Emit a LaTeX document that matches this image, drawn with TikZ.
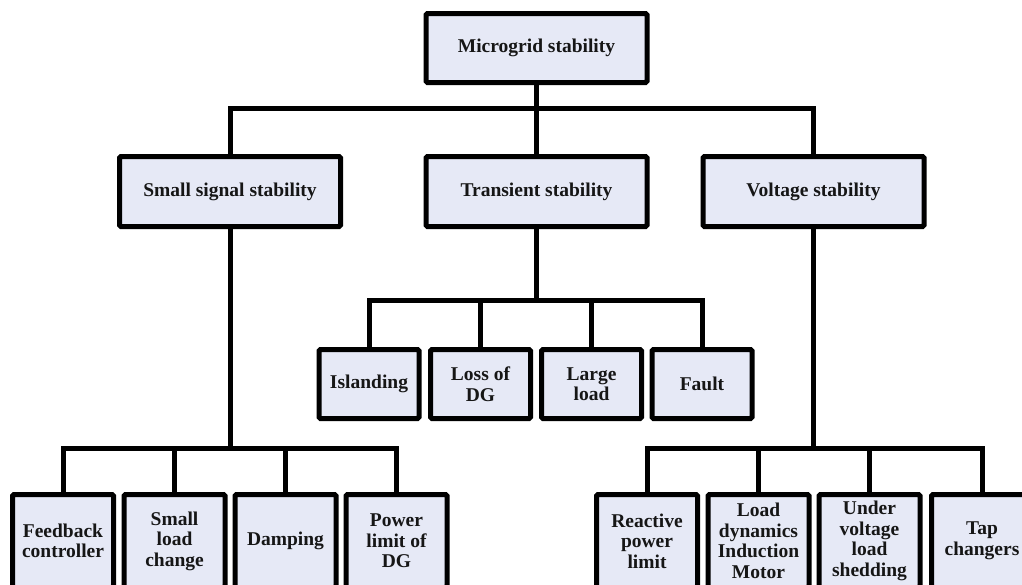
\documentclass[tikz,border=0pt]{standalone}
\usepackage{fontspec}
\setmainfont{Liberation Serif}
\definecolor{boxfill}{RGB}{230,233,246}
\definecolor{inkgray}{RGB}{22,22,22}
\tikzset{
  box/.style={draw=black, line width=5pt, fill=boxfill, rounded corners=1.5pt,
    align=center, inner sep=0pt, text=inkgray,
    font=\bfseries\fontsize{19.5}{20.5}\selectfont},
  wide/.style={box, minimum width=221pt, minimum height=70pt},
  leaf/.style={box, minimum width=100pt, minimum height=69pt},
  tall/.style={box, minimum width=101pt, minimum height=93pt},
  conn/.style={draw=black, line width=5pt, line join=miter}
}
\begin{document}
\begin{tikzpicture}[x=1pt, y=-1pt]
\useasboundingbox (0,0) rectangle (1022,584);
\clip (0,0) rectangle (1022,584);

% root
\node[wide, minimum height=69pt] (top) at (536.5,48) {Microgrid stability};

% second level
\node[wide] (small) at (230,191.5)   {Small signal stability};
\node[wide] (trans) at (536.5,191.5) {Transient stability};
\node[wide] (volt)  at (813.5,191.5) {Voltage stability};

% transient stability causes
\node[leaf] (isl)   at (369,384)   {Islanding};
\node[leaf] (loss)  at (480.5,384) {Loss of\\DG};
\node[leaf] (large) at (591.5,384) {Large\\load};
\node[leaf] (fault) at (702,384)   {Fault};

% small signal stability causes
\node[tall] (fb)    at (63,541)    {Feedback\\controller};
\node[tall] (sl)    at (174.5,541) {Small\\load\\change};
\node[tall] (damp)  at (285.5,541) {Damping};
\node[tall] (pl)    at (396.5,541) {Power\\limit of\\DG};

% voltage stability causes
\node[tall] (rp)    at (647,541)   {Reactive\\power\\limit};
\node[tall] (ld)    at (758.5,541) {Load\\dynamics\\Induction\\Motor};
\node[tall] (uv)    at (869.5,541) {Under\\voltage\\load\\shedding};
\node[tall] (tap)   at (982,541)   {Tap\\changers};

% junction points of the bus lines
\coordinate (b1) at (536.5,108);
\coordinate (b2) at (536.5,300);
\coordinate (b3) at (230,448);
\coordinate (b4) at (813.5,448);

% root to second level
\draw[conn] (top.south) -- (trans.north);
\draw[conn] (small.north) |- (b1) -| (volt.north);

% transient branch
\draw[conn] (trans.south) -- (b2);
\draw[conn] (isl.north) |- (b2) -| (fault.north);
\draw[conn] (loss.north) -- (loss.north |- b2);
\draw[conn] (large.north) -- (large.north |- b2);

% small signal branch
\draw[conn] (small.south) -- (b3);
\draw[conn] (fb.north) |- (b3) -| (pl.north);
\draw[conn] (sl.north) -- (sl.north |- b3);
\draw[conn] (damp.north) -- (damp.north |- b3);

% voltage branch
\draw[conn] (volt.south) -- (b4);
\draw[conn] (rp.north) |- (b4) -| (tap.north);
\draw[conn] (ld.north) -- (ld.north |- b4);
\draw[conn] (uv.north) -- (uv.north |- b4);
\end{tikzpicture}
\end{document}
